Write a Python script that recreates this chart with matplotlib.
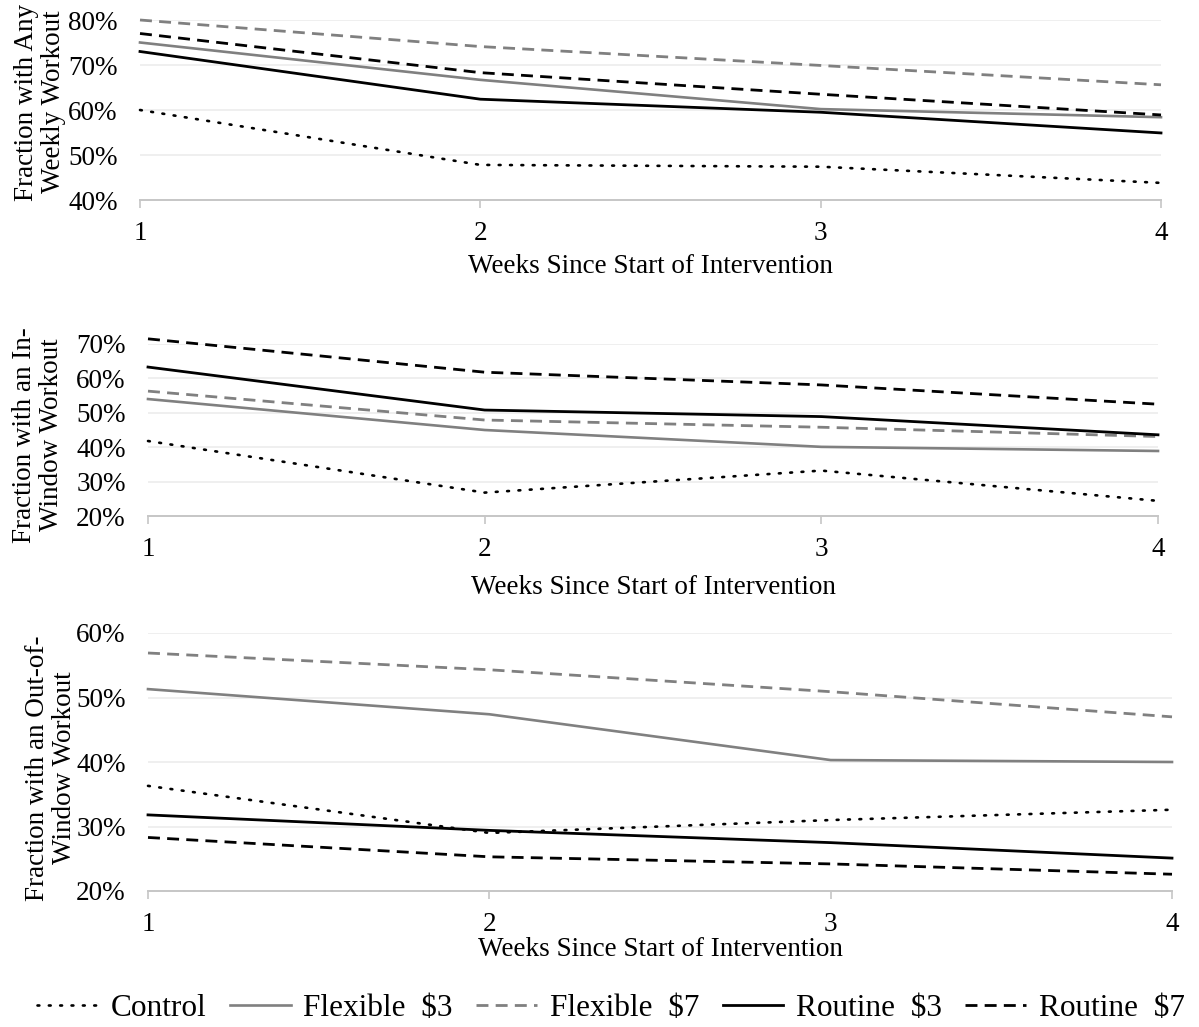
import matplotlib.pyplot as plt
from matplotlib.ticker import FuncFormatter

plt.rcParams['font.family'] = ['Liberation Serif', 'DejaVu Serif']

weeks = [1, 2, 3, 4]

# share of participants (%) with any weekly workout
any_control = [60.0, 47.8, 47.4, 43.8]
any_flex3 = [75.0, 66.7, 60.2, 58.4]
any_flex7 = [80.0, 74.1, 69.9, 65.6]
any_rout3 = [73.0, 62.4, 59.5, 54.9]
any_rout7 = [77.0, 68.3, 63.5, 58.9]

# share with an in-window workout
in_control = [41.8, 26.8, 33.2, 24.4]
in_flex3 = [54.0, 45.0, 40.1, 38.9]
in_flex7 = [56.3, 47.9, 45.8, 43.1]
in_rout3 = [63.3, 50.8, 48.9, 43.6]
in_rout7 = [71.5, 61.8, 58.1, 52.5]

# share with an out-of-window workout
out_control = [36.3, 29.0, 31.0, 32.6]
out_flex3 = [51.3, 47.4, 40.3, 40.0]
out_flex7 = [56.9, 54.3, 50.9, 47.0]
out_rout3 = [31.8, 29.4, 27.5, 25.1]
out_rout7 = [28.3, 25.3, 24.2, 22.6]

labels = ['Control', 'Flexible  \\$3', 'Flexible  \\$7', 'Routine  \\$3', 'Routine  \\$7']
styles = [
    dict(color='black', lw=1.9, ls=(0, (0.7, 3.6)), dash_capstyle='round'),
    dict(color='#808080', lw=1.9, ls='-'),
    dict(color='#808080', lw=2.0, ls=(0, (4.3, 2.6))),
    dict(color='black', lw=2.0, ls='-'),
    dict(color='black', lw=2.0, ls=(0, (4.3, 2.6))),
]

FS = 19.5
W, H = 1199, 1027
fig = plt.figure(figsize=(W / 100, H / 100), dpi=100)


def px_axes(left, right, top, bottom):
    return fig.add_axes([left / W, 1 - bottom / H, (right - left) / W, (bottom - top) / H])


panels = [
    dict(rect=(140, 1161, 20, 200), ylim=(40, 80), series=[any_control, any_flex3, any_flex7, any_rout3, any_rout7],
         ylabel='Fraction with Any\nWeekly Workout', ylab_xy=(40, 102), xlab_y=267),
    dict(rect=(148, 1158, 344, 516), ylim=(20, 70), series=[in_control, in_flex3, in_flex7, in_rout3, in_rout7],
         ylabel='Fraction with an In-\nWindow Workout', ylab_xy=(38, 435), xlab_y=587),
    dict(rect=(148, 1172, 633, 891), ylim=(20, 60), series=[out_control, out_flex3, out_flex7, out_rout3, out_rout7],
         ylabel='Fraction with an Out-of-\nWindow Workout', ylab_xy=(51, 768), xlab_y=950),
]

for p in panels:
    left, right, top, bottom = p['rect']
    ax = px_axes(left, right, top, bottom)
    for vals, lab, st in zip(p['series'], labels, styles):
        ax.plot(weeks, vals, label=lab, clip_on=False, **st)
    ax.set_xlim(1, 4)
    ax.set_ylim(*p['ylim'])
    ax.set_xticks(weeks)
    ax.set_yticks(range(p['ylim'][0], p['ylim'][1] + 1, 10))
    ax.yaxis.set_major_formatter(FuncFormatter(lambda v, pos: f'{v:.0f}%'))
    ax.grid(axis='y', color='#ececec', lw=1.2)
    ax.set_axisbelow(True)
    for s in ['top', 'right', 'left']:
        ax.spines[s].set_visible(False)
    ax.spines['bottom'].set_color('#c6c6c6')
    ax.spines['bottom'].set_linewidth(1.4)
    ax.tick_params(axis='x', direction='out', length=6, width=1.2, color='#c6c6c6',
                   labelsize=FS, pad=9)
    ax.tick_params(axis='y', length=0, labelsize=FS, pad=16)
    fig.text(p['ylab_xy'][0] / W, 1 - p['ylab_xy'][1] / H, p['ylabel'], rotation=90,
             ha='center', va='center', multialignment='center', fontsize=FS, linespacing=1.1)
    fig.text((left + right) / 2 / W, 1 - p['xlab_y'] / H, 'Weeks Since Start of Intervention',
             ha='center', va='center', fontsize=FS)

handles, leg_labels = ax.get_legend_handles_labels()
fig.legend(handles, leg_labels, loc='center', bbox_to_anchor=(611 / W, 1 - 1008 / H), ncol=5,
           frameon=False, fontsize=22.5, handlelength=1.95, handletextpad=0.4, columnspacing=0.75,
           borderaxespad=0, borderpad=0)

fig.savefig('out.png', dpi=100)
